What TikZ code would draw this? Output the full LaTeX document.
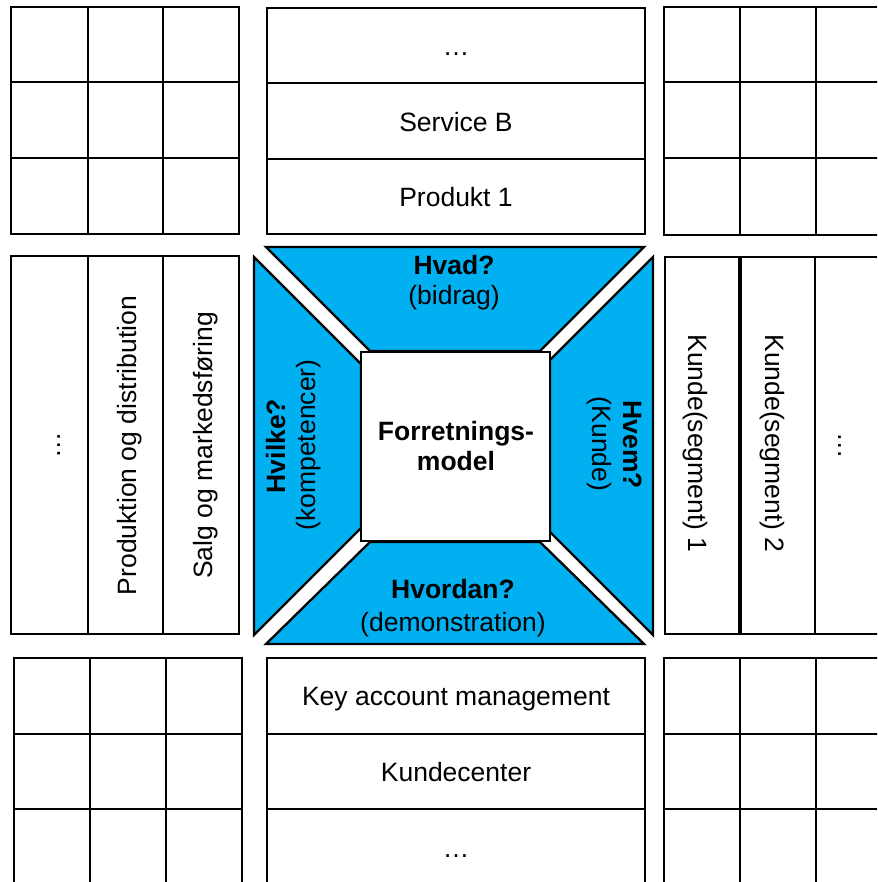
\documentclass[tikz,border=0pt]{standalone}
\usepackage{fontspec}
\setmainfont{Liberation Sans}
\definecolor{cblue}{HTML}{00B0F0}
\begin{document}
\begin{tikzpicture}[x=1pt,y=-1pt,
  cell/.style={draw=black,line width=2.3pt,fill=white},
  gline/.style={draw=black,line width=2.3pt},
  trap/.style={draw=black,line width=2.3pt,fill=cblue,line join=miter},
  lbl/.style={font=\fontsize{26.5}{30}\selectfont,inner sep=0pt,anchor=base},
  blbl/.style={font=\fontsize{26.5}{30}\selectfont\bfseries,inner sep=0pt,anchor=base}]
\clip (0,0) rectangle (877,882);
\fill[white] (0,0) rectangle (877,882);
% ---- top-left 3x3 grid
\draw[cell] (11,7) rectangle (239,234);
\draw[gline] (88,7) -- (88,234) (163,7) -- (163,234) (11,82) -- (239,82) (11,158) -- (239,158);
% ---- top-middle
\draw[cell] (267,8) rectangle (645,234);
\draw[gline] (267,83) -- (645,83) (267,159) -- (645,159);
% ---- top-right
\draw[cell] (664,7) rectangle (892,235);
\draw[gline] (740,7) -- (740,235) (816,7) -- (816,235) (664,82) -- (892,82) (664,158) -- (892,158);
% ---- left-middle
\draw[cell] (11,256) rectangle (239,634);
\draw[gline] (88,256) -- (88,634) (163,256) -- (163,634);
% ---- right-middle
\draw[cell] (665,257) rectangle (890,634);
\draw[draw=black,line width=4pt] (740,257) -- (740,634);
\draw[gline] (815,257) -- (815,634);
% ---- bottom-left
\draw[cell] (14,658) rectangle (242,885);
\draw[gline] (90,658) -- (90,885) (166,658) -- (166,885) (14,734) -- (242,734) (14,809) -- (242,809);
% ---- bottom-middle
\draw[cell] (267,658) rectangle (645,885);
\draw[gline] (267,734) -- (645,734) (267,809) -- (645,809);
% ---- bottom-right
\draw[cell] (664,658) rectangle (892,885);
\draw[gline] (740,658) -- (740,885) (816,658) -- (816,885) (664,734) -- (892,734) (664,809) -- (892,809);
% ---- blue trapezoids
\draw[trap] (266,247) -- (644,247) -- (540,351) -- (370,351) -- cycle;
\draw[trap] (266,644) -- (644,644) -- (540,542) -- (370,542) -- cycle;
\draw[trap] (254,257) -- (361,364) -- (361,528) -- (254,635) -- cycle;
\draw[trap] (653,257) -- (550,360) -- (550,532) -- (653,635) -- cycle;
% ---- centre square
\draw[cell] (361,352) rectangle (550,541);
% ---- texts
\node[lbl] (t1) at (456,56) {…};
\node[lbl] (t2) at (456,132) {Service B};
\node[lbl] (t3) at (456,207) {Produkt 1};
\node[lbl] (b1) at (456,705) {Key account management};
\node[lbl] (b2) at (456,781.5) {Kundecenter};
\node[lbl] (b3) at (456,857) {…};
\node[lbl,rotate=90] (l1) at (60.5,445) {…};
\node[lbl,rotate=90] (l2) at (136.5,445.5) {Produktion og distribution};
\node[lbl,rotate=90] (l3) at (212,445.5) {Salg og markedsføring};
\node[lbl,rotate=-90] (r1) at (688.5,443.5) {Kunde(segment) 1};
\node[lbl,rotate=-90] (r2) at (765.5,443.5) {Kunde(segment) 2};
\node[lbl,rotate=-90] (r3) at (838,446) {…};
\node[blbl] (hvad) at (454,274) {Hvad?};
\node[lbl] (bidrag) at (454,304) {(bidrag)};
\node[blbl] (hvordan) at (453,598) {Hvordan?};
\node[lbl] (demo) at (453,631) {(demonstration)};
\node[blbl,rotate=90] (hvilke) at (285,446) {Hvilke?};
\node[lbl,rotate=90] (komp) at (315,445) {(kompetencer)};
\node[blbl,rotate=-90] (hvem) at (623,445) {Hvem?};
\node[lbl,rotate=-90] (kunde) at (592,444) {(Kunde)};
\node[blbl] (fm1) at (456,440) {Forretnings-};
\node[blbl] (fm2) at (456,470) {model};
\end{tikzpicture}
\end{document}
